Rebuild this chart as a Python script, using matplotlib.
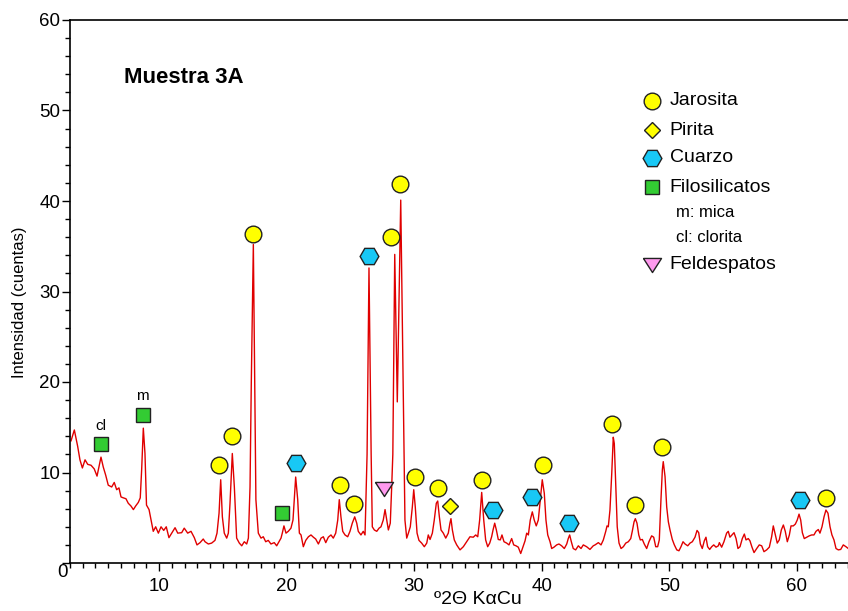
import numpy as np
import matplotlib
matplotlib.use("Agg")
import matplotlib.pyplot as plt
from matplotlib.ticker import MultipleLocator, FuncFormatter

plt.rcParams["font.family"] = ["Liberation Sans", "DejaVu Sans"]

# ---- difractograma (2theta, cuentas) ----
two_theta = [
    3.08, 3.34, 3.6, 3.78, 3.97, 4.18, 4.39, 4.65, 4.9, 5.12, 5.27, 5.43, 5.61, 5.8, 6.0, 6.27, 6.47, 6.66, 6.84, 7.0,
    7.18, 7.39, 7.57, 7.78, 7.97, 8.15, 8.36, 8.51, 8.62, 8.75, 8.88, 9.0, 9.2, 9.35, 9.53, 9.72, 9.93, 10.14, 10.35,
    10.55, 10.76, 10.98, 11.24, 11.45, 11.76, 11.96, 12.23, 12.49, 12.75, 12.96, 13.2, 13.45,
    13.59, 13.85, 14.11, 14.37, 14.53, 14.69, 14.82, 14.95, 15.1, 15.29, 15.42, 15.55, 15.73, 15.89, 16.07, 16.28,
    16.47, 16.67, 16.86, 16.99, 17.12, 17.22, 17.38, 17.5, 17.58, 17.77, 17.98, 18.16, 18.35, 18.55, 18.76, 19.02,
    19.21, 19.39, 19.55, 19.65, 19.78, 19.94, 20.12, 20.33, 20.49, 20.6, 20.7, 20.86, 20.99, 21.12, 21.3, 21.49,
    21.7, 21.9, 22.09, 22.27, 22.48, 22.69, 22.87, 23.06, 23.26, 23.47,
    23.65, 23.84, 24.0, 24.12, 24.25, 24.39, 24.57, 24.78, 24.96, 25.14, 25.33, 25.49, 25.61, 25.82, 26.0, 26.14,
    26.3, 26.45, 26.62, 26.71, 26.87, 27.06, 27.24, 27.39, 27.57, 27.71, 27.84, 27.97, 28.12, 28.23, 28.32, 28.47,
    28.67, 28.94, 29.2, 29.27, 29.41, 29.54, 29.69, 29.85, 29.96, 30.08, 30.22, 30.37, 30.58, 30.79, 30.98, 31.1,
    31.24, 31.42, 31.57, 31.73, 31.84, 31.97, 32.1, 32.28, 32.47, 32.67, 32.8, 32.88, 32.99, 33.14, 33.33,
    33.59, 33.85, 34.11, 34.37, 34.63, 34.82, 34.98, 35.13, 35.29, 35.45, 35.6, 35.76, 35.92, 36.07, 36.18, 36.31,
    36.44, 36.59, 36.75, 36.88, 37.04, 37.25, 37.43, 37.64, 37.8, 37.98, 38.16, 38.35, 38.53, 38.69, 38.82, 38.95,
    39.1, 39.26, 39.41, 39.57, 39.73, 39.89, 40.04, 40.2, 40.33, 40.47, 40.65, 40.78, 40.96, 41.17, 41.35, 41.56,
    41.77, 41.96, 42.08, 42.19, 42.32, 42.47, 42.66, 42.87, 43.08, 43.26, 43.52, 43.78, 44.04,
    44.18, 44.44, 44.65, 44.83, 45.02, 45.12, 45.22, 45.35, 45.49, 45.61, 45.69, 45.8, 45.92, 46.06, 46.22, 46.4,
    46.59, 46.79, 46.98, 47.1, 47.24, 47.34, 47.47, 47.61, 47.73, 47.89, 48.04, 48.23, 48.41, 48.62, 48.78, 48.94,
    49.09, 49.22, 49.35, 49.46, 49.53, 49.67, 49.8, 49.93, 50.06, 50.24, 50.4, 50.59, 50.76, 50.92, 51.08, 51.24,
    51.45, 51.63, 51.81, 52.02, 52.18, 52.31, 52.44, 52.59, 52.75, 52.88, 53.01, 53.17, 53.33, 53.49, 53.67, 53.85,
    53.93, 54.11, 54.29, 54.5, 54.63, 54.76, 54.92, 55.08, 55.24, 55.39, 55.55, 55.73, 55.89, 56.02, 56.2, 56.33,
    56.49, 56.65, 56.86, 57.06, 57.25, 57.43, 57.64, 57.85, 58.03, 58.16, 58.32, 58.47, 58.63, 58.79, 58.95, 59.1,
    59.26, 59.42, 59.55, 59.73, 59.89, 60.04, 60.18, 60.31, 60.44, 60.59, 60.78, 60.98, 61.17, 61.35, 61.51, 61.69,
    61.82, 61.98, 62.14, 62.29, 62.45, 62.61, 62.76, 62.92, 63.08, 63.26, 63.45, 63.65, 63.86, 64.04,
]
counts = [
    13.5, 14.7, 12.9, 11.4, 10.5, 11.4, 10.9, 10.8, 10.4, 9.6, 10.6, 11.7, 10.6, 9.7, 8.6, 8.4, 8.9, 8.1, 8.3, 7.3,
    7.2, 7.1, 6.6, 6.3, 5.9, 6.3, 6.7, 7.2, 10.3, 14.9, 12.1, 6.4, 5.9, 4.8, 3.5, 4.0, 3.3, 4.0, 3.6,
    4.0, 2.8, 3.3, 3.9, 3.3, 3.35, 3.85, 3.3, 3.5, 2.8, 2.0, 2.25, 2.65,
    2.35, 2.1, 2.2, 2.5, 3.3, 5.5, 9.2, 5.1, 3.3, 2.75, 3.3, 6.6, 12.1, 8.4, 2.75, 2.2,
    1.9, 2.35, 2.1, 2.75, 8.4, 20.0, 35.2, 18.0, 7.0, 3.3, 2.75, 2.9, 2.35, 2.5, 2.1, 2.25,
    1.9, 2.35, 2.75, 3.3, 4.1, 3.3, 3.5, 3.85, 4.75, 7.3, 9.5, 7.0, 3.3, 3.1, 1.8, 2.5,
    2.9, 3.1, 2.85, 2.65, 2.1, 2.75, 2.9, 2.25, 2.85, 3.1,
    2.75, 3.3, 4.75, 7.0, 5.1, 3.5, 3.1, 2.9, 3.5, 4.4, 5.1, 4.4, 3.5, 3.1, 3.5, 3.1,
    12.0, 32.6, 12.0, 4.0, 3.65, 3.5, 3.85, 4.0, 4.75, 5.9, 4.75, 3.65, 4.4, 8.4, 12.0, 34.1,
    17.8, 40.1, 12.5, 4.75, 2.75, 3.3, 4.0, 6.2, 8.1, 6.2, 3.3, 2.5, 2.2, 1.8, 2.2, 3.1,
    2.6, 3.3, 4.75, 6.6, 6.85, 5.1, 3.65, 3.3, 2.75, 3.3, 4.4, 4.9, 3.65, 2.55, 2.0,
    1.45, 1.8, 2.35, 2.9, 2.85, 3.1, 2.9, 4.75, 7.8, 4.75, 2.55, 1.8, 2.2, 2.9, 3.65, 4.4,
    3.65, 2.6, 2.55, 3.1, 2.35, 2.2, 2.0, 2.7, 2.0, 1.9, 1.75, 1.05, 1.8, 2.45, 3.3, 3.1,
    4.75, 5.65, 4.75, 4.1, 4.75, 7.0, 9.2, 7.7, 4.75, 3.1, 2.35, 1.6, 1.75, 2.0, 2.1, 1.9,
    1.6, 2.1, 2.7, 3.1, 2.35, 1.6, 1.45, 1.9, 1.6, 2.0, 1.8, 1.5, 1.9,
    2.0, 2.25, 2.0, 2.55, 3.5, 4.1, 4.0, 5.85, 9.9, 13.9, 13.2, 8.8, 4.0, 2.2, 1.6, 1.8,
    2.2, 2.35, 2.7, 3.5, 4.55, 4.9, 4.4, 3.1, 2.55, 2.6, 2.1, 1.6, 2.35, 3.0, 2.85, 1.8,
    1.8, 2.55, 7.0, 10.3, 11.2, 9.55, 6.2, 4.55, 3.65, 2.6, 2.0, 1.45, 1.35, 1.8, 2.35, 2.1,
    1.9, 2.2, 2.35, 2.85, 3.6, 3.35, 2.1, 1.6, 2.45, 2.85, 1.8, 1.5, 1.8, 2.0, 1.75, 1.9,
    2.25, 1.75, 2.35, 3.3, 3.5, 2.85, 3.1, 3.35, 2.7, 1.6, 1.8, 2.7, 3.2, 2.55, 2.7, 2.45,
    1.75, 1.15, 1.6, 2.0, 1.9, 1.25, 1.45, 1.75, 2.9, 4.1, 3.1, 2.2, 2.55, 3.65, 4.2, 3.5,
    2.35, 3.1, 4.1, 4.1, 4.3, 4.75, 5.4, 4.75, 3.35, 2.7, 2.85, 3.0, 3.1, 3.1, 3.5, 3.7,
    3.3, 4.0, 5.1, 5.85, 5.5, 4.0, 3.1, 2.55, 1.6, 1.45, 1.5, 2.0, 1.8, 1.6,
]

# ---- fases identificadas (posicion del simbolo) ----
jarosita_x = [14.69, 15.73, 17.33, 24.18, 25.3, 28.16, 28.86, 30.05, 31.9, 35.3, 40.1, 45.5, 47.3, 49.46, 62.3]
jarosita_y = [10.8, 14.05, 36.4, 8.6, 6.5, 36.05, 41.85, 9.55, 8.25, 9.2, 10.8, 15.35, 6.4, 12.85, 7.15]
pirita_x = [32.8]
pirita_y = [6.3]
cuarzo_x = [20.7, 26.47, 36.17, 39.2, 42.1, 60.26]
cuarzo_y = [11.1, 33.9, 5.85, 7.25, 4.4, 6.95]
filo_x = [5.43, 8.7, 19.65]
filo_y = [13.15, 16.4, 5.55]
filo_lab = ["cl", "m", ""]
feld_x = [27.6]
feld_y = [8.2]

tri = [(-1, 0.78), (1, 0.78), (0, -0.78), (-1, 0.78)]
styles = {
    "jar": dict(marker="o", ms=12, mfc="#ffff00", mec="#222222", mew=1.0, ls="none"),
    "pir": dict(marker="D", ms=8.3, mfc="#ffff00", mec="#222222", mew=1.0, ls="none"),
    "cua": dict(marker="H", ms=13.5, mfc="#18c8f5", mec="#222222", mew=1.0, ls="none"),
    "fil": dict(marker="s", ms=9.4, mfc="#33cc33", mec="#222222", mew=1.0, ls="none"),
    "fel": dict(marker=tri, ms=13, mfc="#ff99ee", mec="#222222", mew=1.0, ls="none"),
}

fig = plt.figure(figsize=(8.48, 6.11), dpi=100)
ax = fig.add_axes([70/848, 48/611, 778/848, 543/611])

ax.plot(two_theta, counts, color="#e00000", lw=1.0, zorder=2)
ax.plot(jarosita_x, jarosita_y, zorder=3, **styles["jar"])
ax.plot(pirita_x, pirita_y, zorder=3, **styles["pir"])
ax.plot(cuarzo_x, cuarzo_y, zorder=3, **styles["cua"])
ax.plot(filo_x, filo_y, zorder=3, **styles["fil"])
ax.plot(feld_x, feld_y, zorder=3, **styles["fel"])
for x, y, t in zip(filo_x, filo_y, filo_lab):
    if t:
        ax.annotate(t, (x, y), xytext=(0, 8), textcoords="offset points",
                    ha="center", va="bottom", fontsize=11)

ax.set_xlim(3, 64.02)
ax.set_ylim(0, 60)
ax.xaxis.set_major_locator(MultipleLocator(10))
ax.xaxis.set_minor_locator(MultipleLocator(1))
ax.yaxis.set_major_locator(MultipleLocator(10))
ax.yaxis.set_minor_locator(MultipleLocator(2))
ax.yaxis.set_major_formatter(FuncFormatter(lambda v, p: "" if v == 0 else f"{v:.0f}"))
ax.tick_params(axis="both", which="major", direction="out", length=6, width=1, labelsize=13.5)
ax.tick_params(axis="both", which="minor", direction="out", length=3.5, width=1)
ax.tick_params(axis="x", which="major", pad=5)
ax.tick_params(axis="y", which="major", pad=1)
ax.spines["right"].set_visible(False)
for s in ["top", "left", "bottom"]:
    ax.spines[s].set_linewidth(1.2)
ax.text(-0.0096, -0.0166, "0", transform=ax.transAxes, ha="center", va="center", fontsize=13.5)

ax.set_xlabel("º2Θ KαCu", fontsize=14)
ax.xaxis.set_label_coords(0.524, -0.052)
ax.set_ylabel("Intensidad (cuentas)", fontsize=12)
ax.yaxis.set_label_coords(-0.055, 0.48)

ax.text(0.0694, 0.895, "Muestra 3A", transform=ax.transAxes, fontsize=16,
        fontweight="bold", ha="left", va="center")

# leyenda manual
leg = [("jar", "Jarosita", 0.851), ("pir", "Pirita", 0.797), ("cua", "Cuarzo", 0.746),
       ("fil", "Filosilicatos", 0.692), ("fel", "Feldespatos", 0.549)]
for key, lab, yy in leg:
    ax.plot([0.748], [yy], transform=ax.transAxes, clip_on=False, **styles[key])
    ax.text(0.771, yy, lab, transform=ax.transAxes, fontsize=14, ha="left", va="center")
ax.text(0.779, 0.645, "m: mica", transform=ax.transAxes, fontsize=12, ha="left", va="center")
ax.text(0.779, 0.600, "cl: clorita", transform=ax.transAxes, fontsize=12, ha="left", va="center")

fig.savefig("out.png", dpi=100)
